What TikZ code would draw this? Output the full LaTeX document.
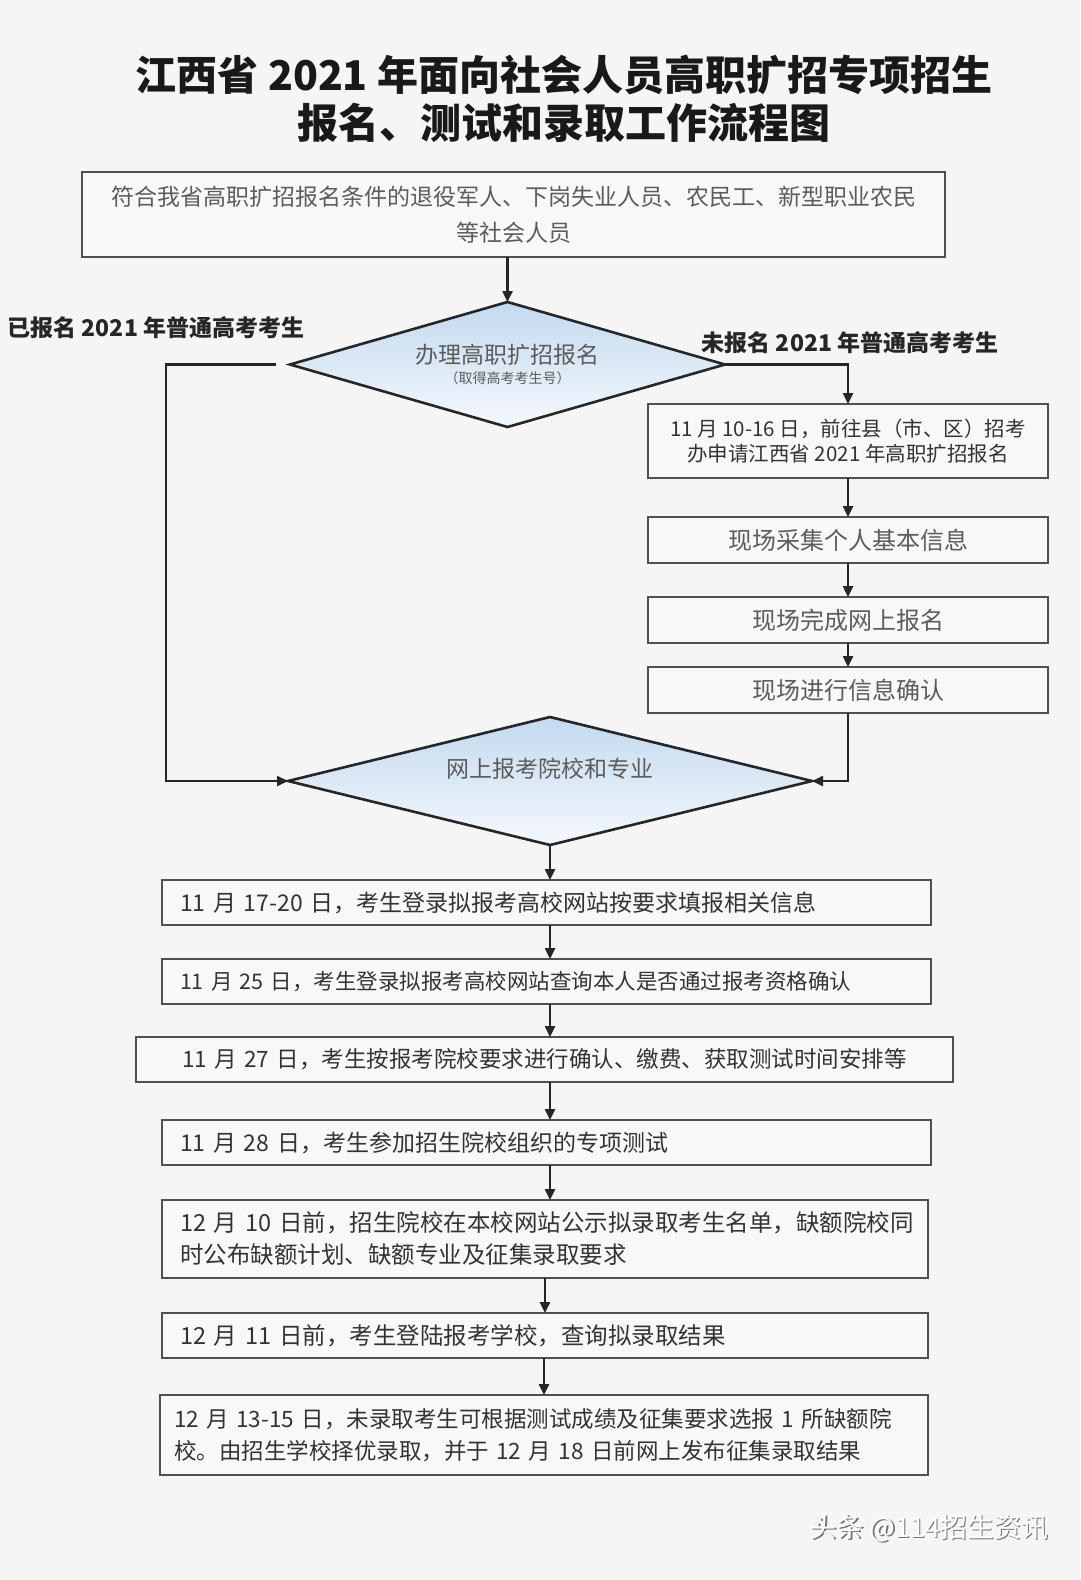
\documentclass[tikz,border=0pt]{standalone}
\usepackage{fontspec}
\setmainfont{Noto Sans CJK SC}
\usetikzlibrary{shapes.geometric,arrows.meta,calc}
\definecolor{bg}{HTML}{F5F5F5}
\definecolor{boxfill}{HTML}{F8F8F8}
\definecolor{boxline}{HTML}{505050}
\definecolor{txt}{HTML}{5C5C5C}
\definecolor{dtxt}{HTML}{333333}
\definecolor{dtop}{HTML}{C3DAEF}
\definecolor{dbot}{HTML}{F4F8FC}
\tikzset{
  stepbox/.style={rectangle, draw=boxline, line width=1.8pt, fill=boxfill, text=txt,
    inner xsep=18pt, inner ysep=0pt, outer sep=0pt, align=center},
  leftbox/.style={stepbox, text=dtxt, align=left, font=\fontsize{23}{31}\selectfont},
  decision/.style={diamond, shape aspect=3.5, draw=black!85, line width=2.6pt, top color=dtop, bottom color=dbot,
    inner sep=0pt, outer sep=0pt, text=txt, align=center},
  lbl/.style={text=black!85, font=\bfseries\fontsize{23}{26}\selectfont},
  conn/.style={line width=2.4pt, draw=black!85},
  arr/.style={conn, -{Triangle[length=11pt,width=10pt]}},
}
\begin{document}
\begin{tikzpicture}[x=1pt,y=-1pt]
\fill[bg] (0,0) rectangle (1080,1580);
\useasboundingbox (0,0) rectangle (1080,1580);

\node[align=center, text=black!90, font=\bfseries\fontsize{41}{48}\selectfont] (title) at (564,99)
  {江西省 2021 年面向社会人员高职扩招专项招生\\报名、测试和录取工作流程图};

\node[stepbox, minimum width=863pt, minimum height=85pt, font=\fontsize{23}{36}\selectfont] (b1) at (513.5,214.5)
  {符合我省高职扩招报名条件的退役军人、下岗失业人员、农民工、新型职业农民\\等社会人员};

\node[decision, minimum width=435pt, minimum height=125pt] (d1) at (507.5,364.5)
  {\fontsize{23}{28}\selectfont 办理高职扩招报名\\[5pt]\fontsize{14}{16}\selectfont （取得高考考生号）};

\node[lbl] (l1) at (156,328) {已报名 2021 年普通高考考生};
\node[lbl] (l2) at (850,343) {未报名 2021 年普通高考考生};

\node[stepbox, text=dtxt, minimum width=400pt, minimum height=74pt, font=\fontsize{20.5}{25}\selectfont] (b2) at (848,441)
  {11 月 10-16 日，前往县（市、区）招考\\办申请江西省 2021 年高职扩招报名};
\node[stepbox, minimum width=400pt, minimum height=46pt, font=\fontsize{24}{28}\selectfont] (b3) at (848,540) {现场采集个人基本信息};
\node[stepbox, minimum width=400pt, minimum height=46pt, font=\fontsize{24}{28}\selectfont] (b4) at (848,620) {现场完成网上报名};
\node[stepbox, minimum width=400pt, minimum height=46pt, font=\fontsize{24}{28}\selectfont] (b5) at (848,690) {现场进行信息确认};

\node[decision, minimum width=524pt, minimum height=128pt, font=\fontsize{23}{28}\selectfont] (d2) at (550,781)
  {\raisebox{4pt}[0pt][0pt]{网上报考院校和专业}};

\node[leftbox, minimum width=769pt, minimum height=45pt, text width=733pt] (b6) at (546.5,902.5)
  {11 月 17-20 日，考生登录拟报考高校网站按要求填报相关信息};
\node[leftbox, minimum width=769pt, minimum height=45pt, text width=733pt, font=\fontsize{21.5}{28}\selectfont] (b7) at (546.5,981.5)
  {11 月 25 日，考生登录拟报考高校网站查询本人是否通过报考资格确认};
\node[leftbox, align=center, minimum width=817pt, minimum height=45pt, text width=781pt, font=\fontsize{22.5}{28}\selectfont] (b8) at (544.5,1059.5)
  {11 月 27 日，考生按报考院校要求进行确认、缴费、获取测试时间安排等};
\node[leftbox, minimum width=769pt, minimum height=45pt, text width=733pt] (b9) at (546.5,1142.5)
  {11 月 28 日，考生参加招生院校组织的专项测试};
\node[leftbox, minimum width=766pt, minimum height=78pt, text width=730pt, font=\fontsize{23.5}{32}\selectfont] (b10) at (545,1239)
  {12 月 10 日前，招生院校在本校网站公示拟录取考生名单，缺额院校同\\时公布缺额计划、缺额专业及征集录取要求};
\node[leftbox, minimum width=766pt, minimum height=45pt, text width=730pt, font=\fontsize{23.5}{28}\selectfont] (b11) at (545,1335.5)
  {12 月 11 日前，考生登陆报考学校，查询拟录取结果};
\node[leftbox, minimum width=768pt, minimum height=80pt, text width=740pt, inner xsep=14pt, font=\fontsize{22.5}{32}\selectfont] (b12) at (544,1435)
  {12 月 13-15 日，未录取考生可根据测试成绩及征集要求选报 1 所缺额院\\校。由招生学校择优录取，并于 12 月 18 日前网上发布征集录取结果};

% connectors
\draw[arr] (b1.south -| d1.north) -- (d1.north);
\draw[arr, shorten <=14pt] (d1.west) -- ++(-124,0) |- (d2.west);
\draw[arr] (d1.east) -| (b2.north);
\draw[arr] (b2.south) -- (b3.north);
\draw[arr] (b3.south) -- (b4.north);
\draw[arr] (b4.south) -- (b5.north);
\draw[arr] (b5.south) |- (d2.east);
\draw[arr] (d2.south) -- (d2.south |- b6.north);
\draw[arr] (b6.south -| d2.south) -- (b7.north -| d2.south);
\draw[arr] (b7.south -| d2.south) -- (b8.north -| d2.south);
\draw[arr] (b8.south -| d2.south) -- (b9.north -| d2.south);
\draw[arr] (b9.south -| d2.south) -- (b10.north -| d2.south);
\draw[arr] (b10.south) -- (b10.south |- b11.north);
\draw[arr] (b11.south -| b12.north) -- (b12.north);

% watermark
\node[text=black!55, font=\fontsize{27}{30}\selectfont] (wms) at (930.5,1529.5) {头条 @114招生资讯};
\node[text=white, font=\fontsize{27}{30}\selectfont] (wm) at (929,1528) {头条 @114招生资讯};
\end{tikzpicture}
\end{document}
